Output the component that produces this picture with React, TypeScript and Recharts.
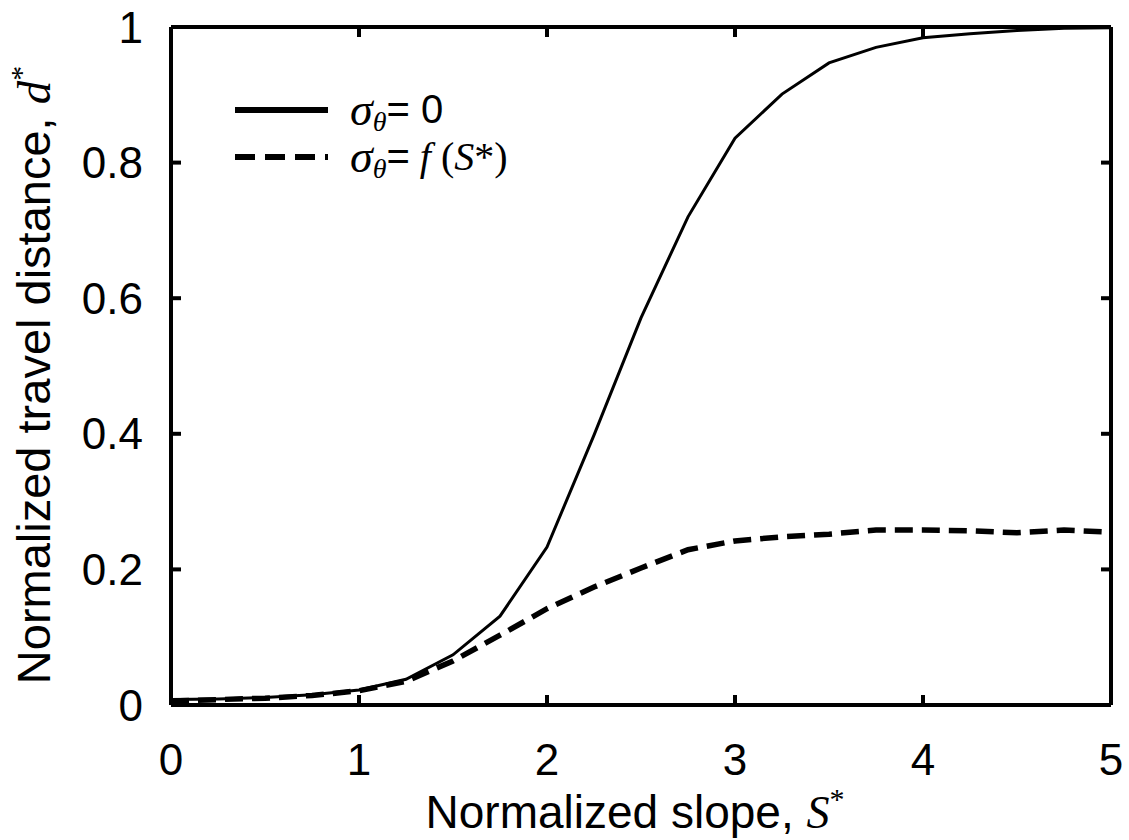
import React from "react"
import { LineChart, Line, XAxis, YAxis, Label } from "recharts"

// normalized slope S*
const slopes = [0, 0.25, 0.5, 0.75, 1, 1.25, 1.5, 1.75, 2, 2.25, 2.5, 2.75, 3, 3.25, 3.5, 3.75, 4, 4.25, 4.5, 4.75, 5]
// d* for sigma_theta = 0
const dConst = [0.008, 0.009, 0.011, 0.015, 0.022, 0.038, 0.074, 0.131, 0.233, 0.398, 0.571, 0.72, 0.836, 0.901, 0.947, 0.97, 0.984, 0.99, 0.995, 0.998, 0.999]
// d* for sigma_theta = f(S*)
const dVar = [0.006, 0.008, 0.01, 0.014, 0.021, 0.035, 0.065, 0.103, 0.142, 0.174, 0.202, 0.229, 0.242, 0.248, 0.252, 0.258, 0.258, 0.257, 0.254, 0.258, 0.255]

const xTicks = [0, 1, 2, 3, 4, 5]
const yTicks = [0, 0.2, 0.4, 0.6, 0.8, 1]

const data = slopes.map((s, i) => ({ s, a: dConst[i], b: dVar[i] }))

const sans = "'Liberation Sans', Arial, sans-serif"
const serif = "'Liberation Serif', 'Times New Roman', serif"

function LegendBox() {
  const row = (dash: string | undefined, tail: React.ReactNode) => (
    <div style={{ display: "flex", alignItems: "center", height: 47 }}>
      <svg width={120} height={12}>
        <line x1={5} x2={98} y1={6} y2={6} stroke="#000" strokeWidth={6} strokeDasharray={dash} />
      </svg>
      <span style={{ fontFamily: serif, fontStyle: "italic", fontSize: 46, lineHeight: 1 }}>σ</span>
      <span style={{ fontFamily: serif, fontStyle: "italic", fontSize: 28, position: "relative", top: 12 }}>θ</span>
      <span style={{ fontFamily: sans, fontSize: 40 }}>=</span>
      {tail}
    </div>
  )
  return (
    <div style={{ position: "absolute", left: 230, top: 86, color: "#000" }}>
      {row(undefined, <span style={{ fontFamily: sans, fontSize: 40 }}>&nbsp;0</span>)}
      {row("20 10",
        <span style={{ fontFamily: serif, fontSize: 40 }}>
          &nbsp;<i>f</i>&nbsp;(<i>S</i>*)
        </span>
      )}
    </div>
  )
}

const noTick = () => <g />

export default function App() {
  return (
    <div style={{ position: "absolute", left: 0, top: 0, background: "#fff" }}>
      <LineChart width={1129} height={840} data={data} margin={{ top: 26, right: 17, left: 0, bottom: 0 }}>
        <XAxis
          type="number"
          dataKey="s"
          domain={[0, 5]}
          ticks={xTicks}
          height={135}
          tickSize={-10}
          tickMargin={49}
          stroke="#000"
          strokeWidth={4}
          tick={{ fill: "#000", fontSize: 44, fontFamily: sans }}
        >
          <Label
            content={() => (
              <text x={635} y={828} textAnchor="middle" fontFamily={sans} fontSize={46} fill="#000">
                Normalized slope,{" "}
                <tspan fontFamily={serif} fontStyle="italic">S</tspan>
                <tspan fontFamily={serif} fontSize={30} dy={-19}>*</tspan>
              </text>
            )}
          />
        </XAxis>
        <XAxis xAxisId="top" orientation="top" type="number" dataKey="s" domain={[0, 5]} ticks={xTicks} height={1}
          tickSize={-10} tick={noTick} stroke="#000" strokeWidth={4} />
        <YAxis
          type="number"
          domain={[0, 1]}
          ticks={yTicks}
          width={171}
          tickSize={-10}
          tickMargin={38}
          stroke="#000"
          strokeWidth={4}
          tick={{ fill: "#000", fontSize: 44, fontFamily: sans }}
        >
          <Label
            content={() => (
              <text x={50} y={375} transform="rotate(-90 50 375)" textAnchor="middle" fontFamily={sans} fontSize={47} fill="#000">
                Normalized travel distance,{" "}
                <tspan fontFamily={serif} fontStyle="italic">d</tspan>
                <tspan fontFamily={serif} fontSize={30} dy={-19}>*</tspan>
              </text>
            )}
          />
        </YAxis>
        <YAxis yAxisId="right" orientation="right" type="number" domain={[0, 1]} ticks={yTicks} width={1}
          tickSize={-10} tick={noTick} stroke="#000" strokeWidth={4} />
        <Line type="linear" dataKey="a" stroke="#000" strokeWidth={3} dot={false} isAnimationActive={false} />
        <Line type="linear" dataKey="b" stroke="#000" strokeWidth={5.5} strokeDasharray="18 9" dot={false} isAnimationActive={false} />
        {/* invisible series so the mirrored frame axes are drawn */}
        <Line xAxisId="top" yAxisId="right" type="linear" dataKey="a" stroke="none" dot={false} activeDot={false} isAnimationActive={false} />
      </LineChart>
      <LegendBox />
    </div>
  )
}
